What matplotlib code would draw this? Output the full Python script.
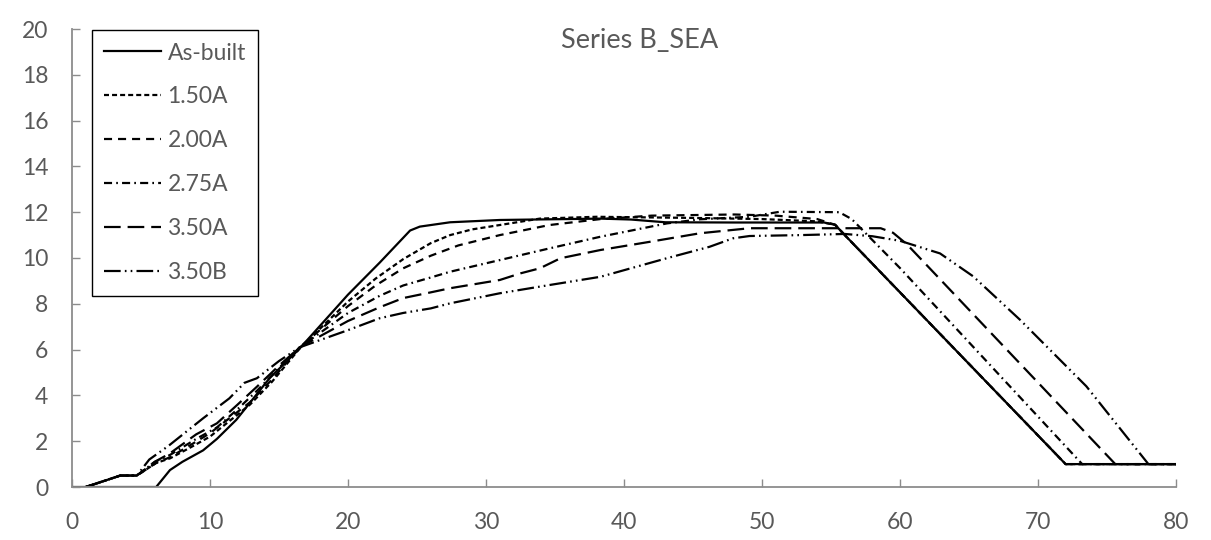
import numpy as np
import matplotlib.pyplot as plt

# === Data ===

asb_x = [0, 6.1, 7.1, 8, 9.5, 10.5, 11.9, 14.3, 16.5, 20, 22.3, 24.5, 25.2, 27.4, 31, 38.3,
         40.5, 43, 48, 52.8, 54.5, 55.3, 56, 72, 80]
asb_y = [0, 0, 0.74, 1.1, 1.6, 2.1, 2.93, 4.74, 6.05, 8.4, 9.8, 11.2, 11.37, 11.56, 11.66, 11.72,
         11.68, 11.56, 11.55, 11.55, 11.55, 11.45, 11.0, 1.0, 1.0]

s150_x = [1, 2.5, 3.5, 4.7, 6.1, 7.1, 8.5, 10, 12.9, 14.5, 16.5, 20, 22, 24, 26, 27.4, 29, 31,
          33.9, 38, 45, 50, 54, 55.3, 56, 72, 80]
s150_y = [0, 0.3, 0.5, 0.5, 1.05, 1.25, 1.7, 2.2, 3.6, 4.6, 6.05, 8.1, 9.1, 9.95, 10.65, 11.0,
          11.25, 11.44, 11.72, 11.8, 11.75, 11.7, 11.6, 11.45, 11.0, 1.0, 1.0]

s200_x = [1, 2.5, 3.5, 4.7, 6.1, 7.1, 8.5, 10, 12.9, 14.5, 16.5, 20, 22, 24, 26, 28, 31, 34.6,
          38.3, 42, 48, 51, 54, 55.3, 56, 72, 80]
s200_y = [0, 0.3, 0.5, 0.5, 1.05, 1.3, 1.8, 2.35, 3.7, 4.7, 6.1, 7.9, 8.8, 9.55, 10.1, 10.55,
          11.0, 11.44, 11.7, 11.85, 11.9, 11.85, 11.7, 11.45, 11.0, 1.0, 1.0]

s275_x = [1, 2.5, 3.5, 4.7, 6, 7.1, 9, 10.5, 12, 13.4, 15, 16.5, 20, 22.3, 24, 26, 27.4, 31,
          34.6, 38.3, 43.1, 45.5, 49.1, 51.3, 55.6, 56.5, 60, 73.2, 80]
s275_y = [0, 0.3, 0.5, 0.5, 1.1, 1.4, 2.1, 2.6, 3.4, 4.2, 5.2, 6.1, 7.6, 8.35, 8.8, 9.15, 9.4,
          9.91, 10.42, 10.93, 11.51, 11.69, 11.8, 12.02, 12.0, 11.7, 9.56, 1.0, 1.0]

s350a_x = [1, 2.5, 3.5, 4.7, 6, 7.1, 9, 10.5, 12, 13.4, 15, 16.5, 20, 22.3, 24, 26, 27.4, 31,
           32.5, 33.9, 35.4, 38.3, 41.9, 45.5, 49.1, 52.8, 58.6, 59.5, 60.5, 75.6, 80]
s350a_y = [0, 0.3, 0.5, 0.5, 1.1, 1.47, 2.3, 2.78, 3.6, 4.38, 5.3, 6.1, 7.25, 7.85, 8.25, 8.5,
           8.68, 9.04, 9.33, 9.55, 9.99, 10.35, 10.71, 11.08, 11.3, 11.3, 11.3, 11.1, 10.6, 1.0, 1.0]

s350b_x = [1, 2.5, 3.5, 4.7, 5.6, 7, 9.5, 11.4, 12.5, 13.4, 15, 16.5, 20, 22.3, 24, 26, 27.4,
           31, 34.6, 38.3, 43.1, 46.2, 47.9, 49.1, 52.8, 56, 58, 60, 62.9, 65.3, 68.7, 73.5, 78, 80]
s350b_y = [0, 0.3, 0.5, 0.5, 1.2, 1.8, 3.0, 3.87, 4.55, 4.75, 5.5, 6.1, 6.85, 7.37, 7.6, 7.8,
           8.02, 8.46, 8.82, 9.18, 9.99, 10.49, 10.86, 10.96, 11.0, 11.05, 10.95, 10.75, 10.2,
           9.2, 7.3, 4.4, 1.0, 1.0]

labels = ["As-built", "1.50A", "2.00A", "2.75A", "3.50A", "3.50B"]
x_ticks = [0, 10, 20, 30, 40, 50, 60, 70, 80]
y_ticks = [0, 2, 4, 6, 8, 10, 12, 14, 16, 18, 20]

# === Plot ===

plt.rcParams["font.family"] = ["Lato", "DejaVu Sans"]
plt.rcParams["lines.scale_dashes"] = False

GREY = "#595959"
AXIS = "#8c8c8c"

fig = plt.figure(figsize=(12.11, 5.40), dpi=100)
ax = fig.add_axes([72 / 1211, 1 - 487 / 540, 1104 / 1211, 458 / 540])

series = [(asb_x, asb_y), (s150_x, s150_y), (s200_x, s200_y),
          (s275_x, s275_y), (s350a_x, s350a_y), (s350b_x, s350b_y)]
dashes = [None, (3.6, 2.2), (5.8, 4.3), (5.8, 3, 1.2, 3), (12, 5), (12, 3, 1.2, 3, 1.2, 3)]

for (xs, ys), lab, d in zip(series, labels, dashes):
    line, = ax.plot(xs, ys, color="black", lw=1.6, label=lab)
    if d is not None:
        line.set_dashes(d)

ax.set_xlim(0, 80)
ax.set_ylim(0, 20)
ax.set_xticks(x_ticks)
ax.set_yticks(y_ticks)
ax.tick_params(direction="in", length=6, width=1, color=AXIS, labelcolor=GREY, labelsize=16.5)
ax.tick_params(axis="x", pad=18)
ax.tick_params(axis="y", pad=17)
for s in ["top", "right"]:
    ax.spines[s].set_visible(False)
for s in ["left", "bottom"]:
    ax.spines[s].set_color(AXIS)
    ax.spines[s].set_linewidth(1.3)

ax.text(0.514, 0.975, "Series B_SEA", transform=ax.transAxes, ha="center", va="center",
        fontsize=19.5, color=GREY)

leg = ax.legend(loc="upper left", bbox_to_anchor=(0.018, 0.998), borderaxespad=0,
                fontsize=16.5, handlelength=2.45, handletextpad=0.3, labelspacing=1.0,
                borderpad=0.55, fancybox=False, framealpha=1)
leg.get_frame().set_edgecolor("black")
leg.get_frame().set_linewidth(1.0)
for t in leg.get_texts():
    t.set_color(GREY)

plt.savefig("out.png", dpi=100)
